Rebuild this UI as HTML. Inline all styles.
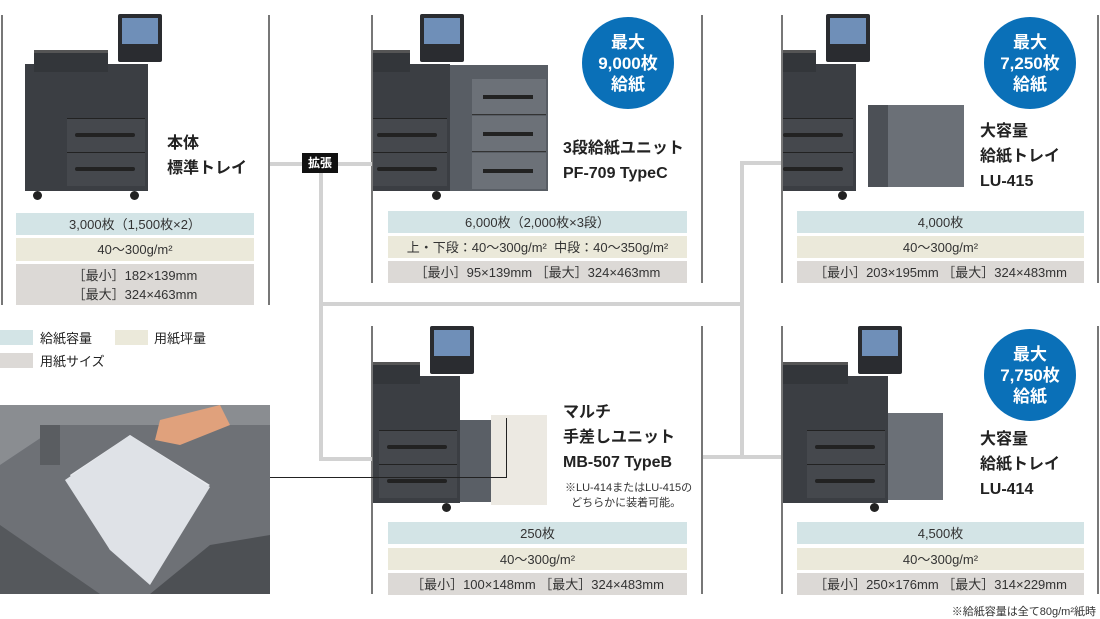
<!DOCTYPE html>
<html><head><meta charset="utf-8">
<style>
*{margin:0;padding:0;box-sizing:border-box}
body{width:1100px;height:619px;background:#fff;position:relative;overflow:hidden;font-family:"Liberation Sans","Noto Sans CJK JP",sans-serif;color:#222}
.a{position:absolute}
.vl{position:absolute;width:2px;background:#777}
.cn{position:absolute;background:#d2d2d2}
.row{position:absolute;display:flex;align-items:center;justify-content:center;font-size:13px;color:#333;text-align:center;line-height:19px}
.b{background:#d3e4e6}.y{background:#ebe9da}.g{background:#dcd9d6}
.t{position:absolute;font-size:16px;font-weight:bold;line-height:25px;color:#222;white-space:nowrap}
.circ{position:absolute;width:92px;height:92px;border-radius:50%;background:#0a70b8;color:#fff;font-weight:bold;font-size:17px;line-height:21px;display:flex;align-items:center;justify-content:center;text-align:center}
.clip{position:absolute;overflow:hidden}
.pr{position:absolute;width:140px;height:182px}
.pr .body{position:absolute;left:0;top:50px;width:123px;height:127px;background:#3b3e43}
.pr .adf{position:absolute;left:9px;top:36px;width:74px;height:22px;background:#33363a;border-top:3px solid #555}
.pr .scr{position:absolute;left:93px;top:0;width:44px;height:48px;background:#2a2c30;border-radius:2px}
.pr .scr i{position:absolute;left:4px;top:4px;width:36px;height:26px;background:#6f8fb8}
.pr .dr{position:absolute;left:42px;width:78px;height:34px;background:#45484d;border-top:1px solid #222}
.pr .dr i{position:absolute;left:8px;top:14px;width:60px;height:4px;background:#222;border-radius:2px}
.pr .wh{position:absolute;top:177px;width:9px;height:9px;border-radius:50%;background:#222}
</style></head><body>

<!-- vertical panel lines -->
<div class="vl" style="left:1px;top:15px;height:290px"></div>
<div class="vl" style="left:268px;top:15px;height:290px"></div>
<div class="vl" style="left:371px;top:15px;height:268px"></div>
<div class="vl" style="left:701px;top:15px;height:268px"></div>
<div class="vl" style="left:781px;top:15px;height:268px"></div>
<div class="vl" style="left:1097px;top:15px;height:268px"></div>
<div class="vl" style="left:371px;top:326px;height:268px"></div>
<div class="vl" style="left:701px;top:326px;height:268px"></div>
<div class="vl" style="left:781px;top:326px;height:268px"></div>
<div class="vl" style="left:1097px;top:326px;height:268px"></div>

<!-- connectors -->
<div class="cn" style="left:270px;top:162px;width:102px;height:4px"></div>
<div class="cn" style="left:319px;top:165px;width:4px;height:296px"></div>
<div class="cn" style="left:319px;top:302px;width:424px;height:4px"></div>
<div class="cn" style="left:319px;top:457px;width:53px;height:4px"></div>
<div class="cn" style="left:740px;top:161px;width:4px;height:298px"></div>
<div class="cn" style="left:740px;top:161px;width:41px;height:4px"></div>
<div class="cn" style="left:703px;top:455px;width:78px;height:4px"></div>
<div class="a" style="left:302px;top:153px;width:36px;height:20px;background:#111;color:#fff;font-size:12px;font-weight:bold;line-height:20px;text-align:center">拡張</div>

<!-- printer 1 -->
<div class="pr" style="left:25px;top:14px">
 <div class="body"></div><div class="adf"></div><div class="scr"><i></i></div>
 <div class="dr" style="top:118px"></div><div class="dr" style="top:104px"><i></i></div><div class="dr" style="top:138px"><i></i></div>
 <div class="wh" style="left:8px"></div><div class="wh" style="left:105px"></div>
</div>
<div class="t" style="left:167px;top:131px">本体<br>標準トレイ</div>

<!-- printer 2 -->
<div class="clip" style="left:373px;top:0;width:200px;height:200px">
 <div class="pr" style="left:-46px;top:14px">
  <div class="body"></div><div class="adf"></div><div class="scr"><i></i></div>
  <div class="dr" style="top:104px"><i></i></div><div class="dr" style="top:138px"><i></i></div>
  <div class="wh" style="left:105px"></div>
 </div>
 <div class="a" style="left:77px;top:65px;width:98px;height:126px;background:#585d64"></div>
 <div class="a" style="left:99px;top:79px;width:74px;height:36px;background:#6c7178;border-bottom:1px solid #333"></div>
 <div class="a" style="left:99px;top:116px;width:74px;height:36px;background:#6c7178;border-bottom:1px solid #333"></div>
 <div class="a" style="left:99px;top:153px;width:74px;height:36px;background:#6c7178"></div>
 <div class="a" style="left:110px;top:95px;width:50px;height:4px;background:#222"></div>
 <div class="a" style="left:110px;top:132px;width:50px;height:4px;background:#222"></div>
 <div class="a" style="left:110px;top:169px;width:50px;height:4px;background:#222"></div>
</div>
<div class="circ" style="left:582px;top:17px">最大<br>9,000枚<br>給紙</div>
<div class="t" style="left:563px;top:136px">3段給紙ユニット<br>PF-709 TypeC</div>

<!-- printer 3 -->
<div class="clip" style="left:783px;top:0;width:190px;height:200px">
 <div class="pr" style="left:-50px;top:14px">
  <div class="body"></div><div class="adf"></div><div class="scr"><i></i></div>
  <div class="dr" style="top:104px"><i></i></div><div class="dr" style="top:138px"><i></i></div>
  <div class="wh" style="left:105px"></div>
 </div>
 <div class="a" style="left:85px;top:105px;width:96px;height:82px;background:#6b7077"></div>
 <div class="a" style="left:85px;top:105px;width:20px;height:82px;background:#4c5056"></div>
</div>
<div class="circ" style="left:984px;top:17px">最大<br>7,250枚<br>給紙</div>
<div class="t" style="left:980px;top:119px">大容量<br>給紙トレイ<br>LU-415</div>

<!-- printer 4 -->
<div class="clip" style="left:373px;top:320px;width:200px;height:200px">
 <div class="pr" style="left:-36px;top:6px">
  <div class="body"></div><div class="adf"></div><div class="scr"><i></i></div>
  <div class="dr" style="top:104px"><i></i></div><div class="dr" style="top:138px"><i></i></div>
  <div class="wh" style="left:105px"></div>
 </div>
 <div class="a" style="left:87px;top:100px;width:35px;height:82px;background:#5a5f66"></div>
 <div class="a" style="left:118px;top:95px;width:56px;height:90px;background:#ece9e2"></div>
</div>
<div class="a" style="left:270px;top:477px;width:237px;height:1px;background:#222"></div>
<div class="a" style="left:506px;top:418px;width:1px;height:60px;background:#222"></div>
<div class="t" style="left:563px;top:400px">マルチ<br>手差しユニット<br>MB-507 TypeB</div>
<div class="a" style="left:565px;top:481px;font-size:11px;line-height:15px;color:#333">※LU-414またはLU-415の<br>&nbsp;&nbsp;どちらかに装着可能。</div>

<!-- printer 5 -->
<div class="clip" style="left:783px;top:320px;width:170px;height:200px">
 <div class="pr" style="left:-18px;top:6px">
  <div class="body"></div><div class="adf"></div><div class="scr"><i></i></div>
  <div class="dr" style="top:104px"><i></i></div><div class="dr" style="top:138px"><i></i></div>
  <div class="wh" style="left:105px"></div>
 </div>
 <div class="a" style="left:105px;top:93px;width:55px;height:87px;background:#6b7077"></div>
</div>
<div class="circ" style="left:984px;top:329px">最大<br>7,750枚<br>給紙</div>
<div class="t" style="left:980px;top:427px">大容量<br>給紙トレイ<br>LU-414</div>

<!-- tables -->
<div class="row b" style="left:16px;top:213px;width:238px;height:22px">3,000枚（1,500枚×2）</div>
<div class="row y" style="left:16px;top:238px;width:238px;height:23px">40〜300g/m²</div>
<div class="row g" style="left:16px;top:264px;width:238px;height:41px">［最小］182×139mm<br>［最大］324×463mm</div>

<div class="row b" style="left:388px;top:211px;width:299px;height:22px">6,000枚（2,000枚×3段）</div>
<div class="row y" style="left:388px;top:236px;width:299px;height:22px">上・下段：40〜300g/m²&nbsp; 中段：40〜350g/m²</div>
<div class="row g" style="left:388px;top:261px;width:299px;height:22px">［最小］95×139mm ［最大］324×463mm</div>

<div class="row b" style="left:797px;top:211px;width:287px;height:22px">4,000枚</div>
<div class="row y" style="left:797px;top:236px;width:287px;height:22px">40〜300g/m²</div>
<div class="row g" style="left:797px;top:261px;width:287px;height:22px">［最小］203×195mm ［最大］324×483mm</div>

<div class="row b" style="left:388px;top:522px;width:299px;height:22px">250枚</div>
<div class="row y" style="left:388px;top:548px;width:299px;height:22px">40〜300g/m²</div>
<div class="row g" style="left:388px;top:573px;width:299px;height:22px">［最小］100×148mm ［最大］324×483mm</div>

<div class="row b" style="left:797px;top:522px;width:287px;height:22px">4,500枚</div>
<div class="row y" style="left:797px;top:548px;width:287px;height:22px">40〜300g/m²</div>
<div class="row g" style="left:797px;top:573px;width:287px;height:22px">［最小］250×176mm ［最大］314×229mm</div>

<!-- legend -->
<div class="a b" style="left:0;top:330px;width:33px;height:15px"></div>
<div class="a" style="left:40px;top:328px;font-size:13px">給紙容量</div>
<div class="a y" style="left:115px;top:330px;width:33px;height:15px"></div>
<div class="a" style="left:154px;top:328px;font-size:13px">用紙坪量</div>
<div class="a g" style="left:0;top:353px;width:33px;height:15px"></div>
<div class="a" style="left:40px;top:351px;font-size:13px">用紙サイズ</div>

<!-- photo -->
<svg class="a" style="left:0;top:405px" width="270" height="189" viewBox="0 0 270 189">
 <rect width="270" height="189" fill="#6e7176"/>
 <polygon points="0,0 270,0 270,20 60,20 0,60" fill="#8a8d91"/>
 <polygon points="0,189 0,120 100,189" fill="#55585c"/>
 <polygon points="150,189 210,140 270,130 270,189" fill="#4d5054"/>
 <polygon points="40,20 60,20 60,60 40,60" fill="#5a5d61"/>
 <polygon points="130,30 210,80 110,145 70,70" fill="#e8eaee"/>
 <polygon points="65,75 130,30 210,82 150,180 110,145" fill="#dfe2e7"/>
 <polygon points="160,15 220,0 230,20 180,40 155,35" fill="#e0a17c"/>
</svg>

<div class="a" style="right:4px;top:603px;font-size:11px;color:#333">※給紙容量は全て80g/m²紙時</div>
</body></html>
